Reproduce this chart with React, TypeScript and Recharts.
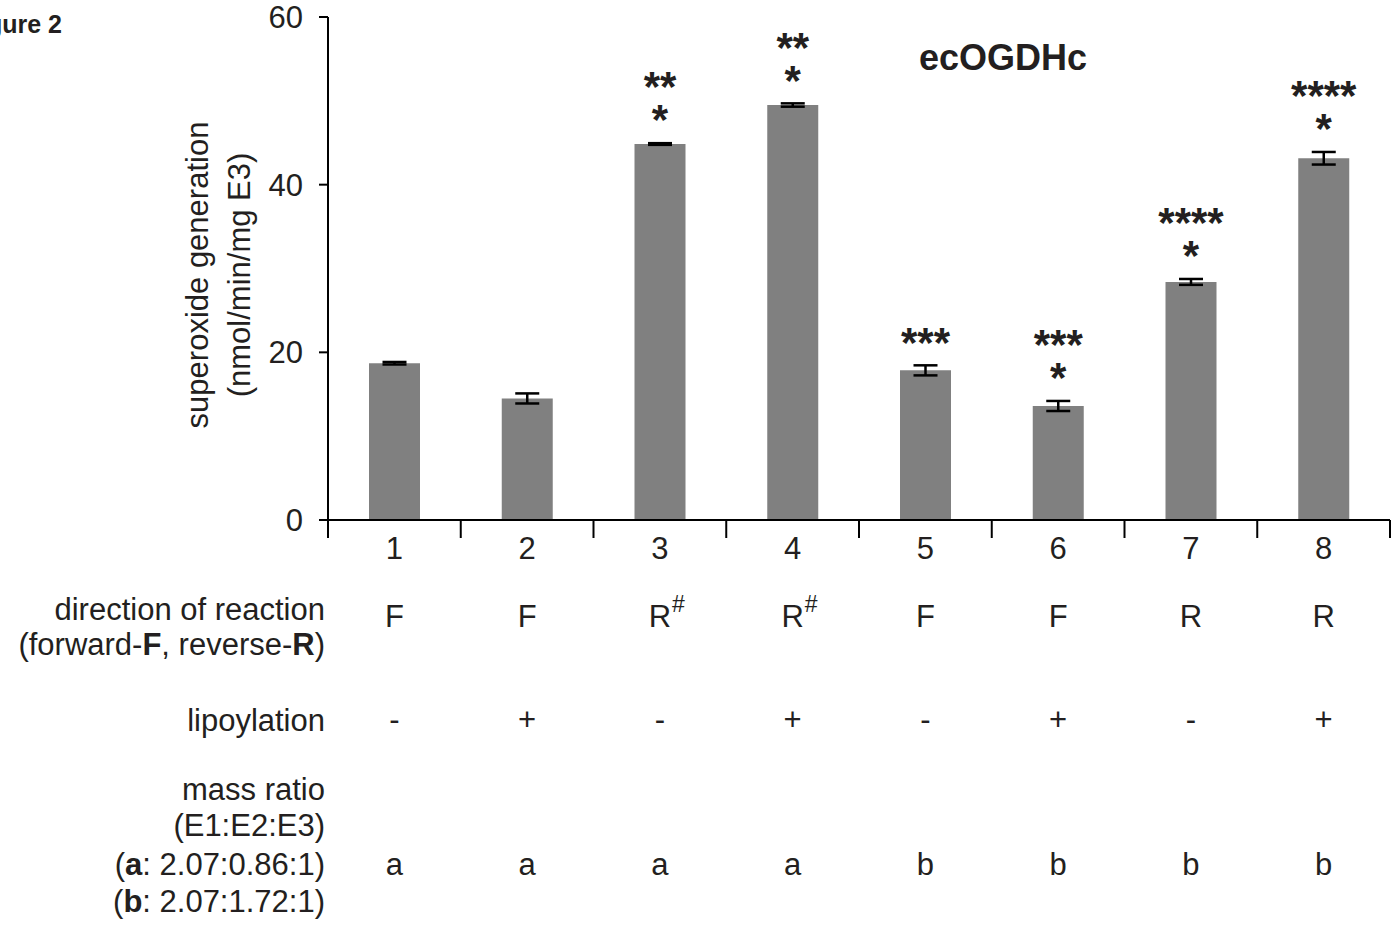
import React from "react";
import { BarChart, Bar, XAxis, YAxis, ErrorBar, LabelList } from "recharts";

const categories = ["1", "2", "3", "4", "5", "6", "7", "8"];
const values = [18.7, 14.5, 44.85, 49.5, 17.85, 13.6, 28.4, 43.15];
const errors = [0.15, 0.6, 0.1, 0.2, 0.6, 0.6, 0.35, 0.75];
const sigUpper = ["", "", "**", "**", "", "***", "****", "****"];
const sigLower = ["", "", "*", "*", "***", "*", "*", "*"];
const directions = ["F", "F", "R", "R", "F", "F", "R", "R"];
const directionNotes = ["", "", "#", "#", "", "", "", ""];
const lipoylation = ["-", "+", "-", "+", "-", "+", "-", "+"];
const massRatio = ["a", "a", "a", "a", "b", "b", "b", "b"];
const yTicks = [0, 20, 40, 60];
const Y_MAX = 60;

const data = categories.map((c, i) => ({
  cat: c,
  value: values[i],
  err: errors[i],
}));

const W = 1395;
const H = 925;
const MARGIN = { top: 17, right: 5, left: 268, bottom: 375 };
const Y_AXIS_W = 60;
const X_AXIS_H = 30;
const PLOT_W = W - MARGIN.left - Y_AXIS_W - MARGIN.right;
const PLOT_H = H - MARGIN.top - MARGIN.bottom - X_AXIS_H;
const BAND = PLOT_W / categories.length;
const PX_PER_UNIT = PLOT_H / Y_MAX;

const FONT = "'Liberation Sans', Arial, Helvetica, sans-serif";
const TEXT = "#231f20";
const FS = 31;

const CustomTick = (props: any) => {
  const { x, y, payload, index } = props;
  const i = index as number;
  const left = x - BAND / 2;
  const right = x + BAND / 2;
  return (
    <g>
      <line x1={left} y1={y} x2={left} y2={y + 18} stroke="#000" strokeWidth={2} />
      {i === categories.length - 1 && (
        <line x1={right} y1={y} x2={right} y2={y + 18} stroke="#000" strokeWidth={2} />
      )}
      <text x={x} y={y + 39} textAnchor="middle" fontFamily={FONT} fontSize={FS} fill={TEXT}>
        {payload.value}
      </text>
      <text x={x} y={y + 107} textAnchor="middle" fontFamily={FONT} fontSize={FS} fill={TEXT}>
        {directions[i]}
      </text>
      {directionNotes[i] && (
        <text x={x + 12} y={y + 92} textAnchor="start" fontFamily={FONT} fontSize={23} fill={TEXT}>
          {directionNotes[i]}
        </text>
      )}
      <text x={x} y={y + 210} textAnchor="middle" fontFamily={FONT} fontSize={FS} fill={TEXT}>
        {lipoylation[i]}
      </text>
      <text x={x} y={y + 355} textAnchor="middle" fontFamily={FONT} fontSize={FS} fill={TEXT}>
        {massRatio[i]}
      </text>
    </g>
  );
};

const SIG_FS = 42;

const SigLabel = (props: any) => {
  const { x, y, width, index } = props;
  const i = index as number;
  const cx = Number(x) + Number(width) / 2;
  const errTop = Number(y) - errors[i] * PX_PER_UNIT;
  const lowerC = errTop - 26;
  const upperC = errTop - 59;
  const off = SIG_FS * 0.41;
  return (
    <g>
      {sigLower[i] && (
        <text x={cx} y={lowerC + off} textAnchor="middle" fontFamily={FONT} fontWeight="bold" fontSize={SIG_FS} fill={TEXT}>
          {sigLower[i]}
        </text>
      )}
      {sigUpper[i] && (
        <text x={cx} y={upperC + off} textAnchor="middle" fontFamily={FONT} fontWeight="bold" fontSize={SIG_FS} fill={TEXT}>
          {sigUpper[i]}
        </text>
      )}
    </g>
  );
};

const leftLabels: { text: React.ReactNode; y: number }[] = [
  { text: "direction of reaction", y: 620 },
  {
    text: (
      <>
        (forward-<tspan fontWeight="bold">F</tspan>, reverse-<tspan fontWeight="bold">R</tspan>)
      </>
    ),
    y: 655,
  },
  { text: "lipoylation", y: 731 },
  { text: "mass ratio", y: 800 },
  { text: "(E1:E2:E3)", y: 836 },
  {
    text: (
      <>
        (<tspan fontWeight="bold">a</tspan>: 2.07:0.86:1)
      </>
    ),
    y: 875,
  },
  {
    text: (
      <>
        (<tspan fontWeight="bold">b</tspan>: 2.07:1.72:1)
      </>
    ),
    y: 912,
  },
];

export default function App() {
  return (
    <div style={{ position: "absolute", left: 0, top: 0, width: W, height: H, background: "#fff" }}>
      <BarChart width={W} height={H} data={data} margin={MARGIN} barSize={51}>
        <XAxis
          dataKey="cat"
          axisLine={{ stroke: "#000", strokeWidth: 2 }}
          tickLine={false}
          tickSize={0}
          tickMargin={0}
          interval={0}
          height={X_AXIS_H}
          tick={<CustomTick />}
        />
        <YAxis
          domain={[0, Y_MAX]}
          ticks={yTicks}
          width={Y_AXIS_W}
          axisLine={{ stroke: "#000", strokeWidth: 2 }}
          tickLine={{ stroke: "#000", strokeWidth: 2 }}
          tickSize={9}
          tickMargin={16}
          tick={{ fontSize: FS, fill: TEXT, fontFamily: FONT }}
          interval={0}
        />
        <Bar dataKey="value" fill="#808080" isAnimationActive={false}>
          <ErrorBar dataKey="err" width={12} strokeWidth={2.5} stroke="#000" direction="y" isAnimationActive={false} />
          <LabelList dataKey="value" content={<SigLabel />} />
        </Bar>
      </BarChart>
      <svg
        width={W}
        height={H}
        style={{ position: "absolute", left: 0, top: 0, pointerEvents: "none" }}
      >
        <text x={62} y={33} textAnchor="end" fontFamily={FONT} fontWeight="bold" fontSize={25} fill={TEXT}>
          Figure 2
        </text>
        <text x={1003} y={70} textAnchor="middle" fontFamily={FONT} fontWeight="bold" fontSize={36} fill={TEXT}>
          ecOGDHc
        </text>
        <text
          x={197}
          y={275}
          transform="rotate(-90 197 275)"
          textAnchor="middle"
          dominantBaseline="central"
          fontFamily={FONT}
          fontSize={FS}
          fill={TEXT}
        >
          superoxide generation
        </text>
        <text
          x={239}
          y={275}
          transform="rotate(-90 239 275)"
          textAnchor="middle"
          dominantBaseline="central"
          fontFamily={FONT}
          fontSize={FS}
          fill={TEXT}
        >
          (nmol/min/mg E3)
        </text>
        {leftLabels.map((l, i) => (
          <text key={i} x={325} y={l.y} textAnchor="end" fontFamily={FONT} fontSize={FS} fill={TEXT}>
            {l.text}
          </text>
        ))}
      </svg>
    </div>
  );
}
